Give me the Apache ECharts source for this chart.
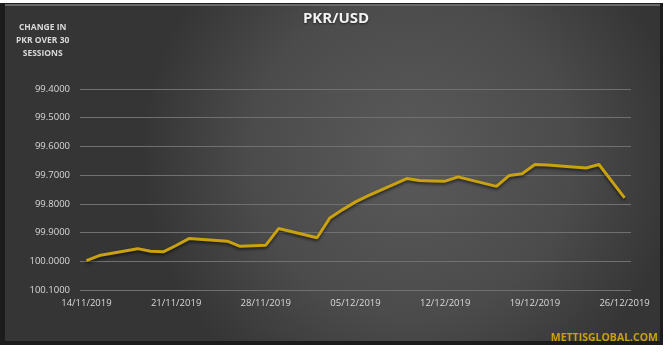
<!DOCTYPE html>
<html><head><meta charset="utf-8">
<script src="https://cdn.jsdelivr.net/npm/echarts@6/dist/echarts.min.js"></script>
<style>html,body{margin:0;padding:0;background:#fff}#c{width:672px;height:355px}</style>
</head><body><div id="c"></div>
<script>
// all calendar days on the date axis (Excel-style date axis)
var categories = ['14/11/2019','15/11/2019','16/11/2019','17/11/2019','18/11/2019','19/11/2019','20/11/2019',
'21/11/2019','22/11/2019','23/11/2019','24/11/2019','25/11/2019','26/11/2019','27/11/2019',
'28/11/2019','29/11/2019','30/11/2019','01/12/2019','02/12/2019','03/12/2019','04/12/2019',
'05/12/2019','06/12/2019','07/12/2019','08/12/2019','09/12/2019','10/12/2019','11/12/2019',
'12/12/2019','13/12/2019','14/12/2019','15/12/2019','16/12/2019','17/12/2019','18/12/2019',
'19/12/2019','20/12/2019','21/12/2019','22/12/2019','23/12/2019','24/12/2019','25/12/2019','26/12/2019'];
// trading sessions
var sessionDates = ['14/11/2019','15/11/2019','18/11/2019','19/11/2019','20/11/2019','21/11/2019','22/11/2019',
'25/11/2019','26/11/2019','27/11/2019','28/11/2019','29/11/2019','02/12/2019','03/12/2019','04/12/2019',
'05/12/2019','06/12/2019','09/12/2019','10/12/2019','11/12/2019','12/12/2019','13/12/2019','16/12/2019',
'17/12/2019','18/12/2019','19/12/2019','20/12/2019','23/12/2019','24/12/2019','26/12/2019'];
var pkrUsd = [99.998,99.980,99.956,99.965,99.967,99.945,99.921,
99.930,99.948,99.946,99.944,99.886,99.918,99.849,99.820,
99.793,99.771,99.712,99.719,99.720,99.721,99.706,99.739,
99.701,99.695,99.663,99.665,99.675,99.663,99.779];
var yTicks = {min:99.4, max:100.1, step:0.1};

var seriesData = sessionDates.map(function(d,i){return [d,pkrUsd[i]];});

var chart = echarts.init(document.getElementById('c'));
var font = '"Open Sans", "Noto Sans", sans-serif';
chart.setOption({
  backgroundColor:'#ffffff',
  animation:false,
  graphic:[
    {type:'rect', z:-10, silent:true, shape:{x:0,y:3,width:663,height:342},
     style:{fill:'#1c1c1c'}},
    {type:'rect', z:-9, silent:true, shape:{x:5,y:4,width:655,height:337},
     style:{fill:{type:'radial',x:0.62,y:0.45,r:0.8,colorStops:[
       {offset:0,color:'#5a5a5a'},{offset:0.6,color:'#4b4b4b'},{offset:1,color:'#353535'}]}}},
    {type:'rect', z:-8, silent:true, shape:{x:5,y:4,width:655,height:2},
     style:{fill:'#6a6a6a'}},
    {type:'text', left:47-31, top:21, style:{text:'CHANGE IN\nPKR OVER 30\nSESSIONS', fill:'#d9d9d9',
      font:'bold 8.5px '+font, textAlign:'center', lineHeight:13, x:31}},
    {type:'text', right:14, top:333, style:{text:'METTISGLOBAL.COM', fill:'#c9a00f',
      font:'bold 10.5px '+font}}
  ],
  title:{text:'PKR/USD', left:'center', top:11, padding:0,
    textStyle:{color:'#f2f2f2', fontSize:15, fontWeight:'bold', fontFamily:font,
      textShadowColor:'rgba(0,0,0,0.6)', textShadowBlur:2, textShadowOffsetY:1}},
  grid:{left:80, right:41, top:89, bottom:65, containLabel:false},
  xAxis:{type:'category', data:categories, boundaryGap:true,
    axisLine:{show:false}, axisTick:{show:false},
    axisLabel:{interval:6, color:'#d9d9d9', fontSize:9.5, fontFamily:font, margin:8},
    splitLine:{show:false}},
  yAxis:{type:'value', inverse:true, min:yTicks.min, max:yTicks.max, interval:yTicks.step,
    axisLine:{show:false}, axisTick:{show:false},
    axisLabel:{color:'#d9d9d9', fontSize:9.5, fontFamily:font, margin:10,
      formatter:function(v){return v.toFixed(4);}},
    splitLine:{lineStyle:{color:'#707070', width:1}}},
  series:[{type:'line', data:seriesData, connectNulls:true, symbol:'none',
    lineStyle:{color:'#c9a20e', width:3, shadowColor:'rgba(0,0,0,0.55)', shadowBlur:3, shadowOffsetY:2},
    itemStyle:{color:'#c9a20e'}}]
});
</script></body></html>
